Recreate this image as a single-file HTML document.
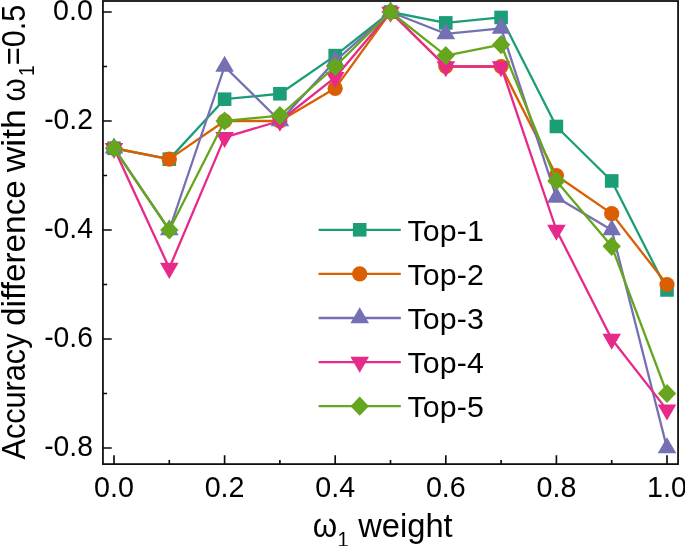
<!DOCTYPE html>
<html lang="en">
<head>
<meta charset="utf-8">
<title>Accuracy difference with ω1=0.5 vs ω1 weight</title>
<style>
html,body{margin:0;padding:0;background:#fff;}
body{width:685px;height:546px;overflow:hidden;}
svg{display:block;}
text{font-family:"Liberation Sans",sans-serif;fill:#000;}
.tk{font-size:29.4px;}
.lg{font-size:30.3px;}
.ax{font-size:32.5px;}
.sub{font-size:21.5px;}
.lg{letter-spacing:0.15px;}
</style>
</head>
<body>
<svg width="685" height="546" viewBox="0 0 685 546">
<rect x="0" y="0" width="685" height="546" fill="#fff"/>
<g fill="none" stroke-linejoin="round" stroke-linecap="butt">
<g><polyline points="114,148.25 169.3,159.15 224.6,99.2 279.9,93.75 335.2,55.6 390.5,12 445.8,22.9 501.1,17.45 556.4,126.45 611.7,180.95 667,289.95" stroke="#1b9e77" stroke-width="2.3" fill="none"/>
<rect x="107.2" y="141.45" width="13.6" height="13.6" fill="#1b9e77"/><rect x="162.5" y="152.35" width="13.6" height="13.6" fill="#1b9e77"/><rect x="217.8" y="92.4" width="13.6" height="13.6" fill="#1b9e77"/><rect x="273.1" y="86.95" width="13.6" height="13.6" fill="#1b9e77"/><rect x="328.4" y="48.8" width="13.6" height="13.6" fill="#1b9e77"/><rect x="383.7" y="5.2" width="13.6" height="13.6" fill="#1b9e77"/><rect x="439" y="16.1" width="13.6" height="13.6" fill="#1b9e77"/><rect x="494.3" y="10.65" width="13.6" height="13.6" fill="#1b9e77"/><rect x="549.6" y="119.65" width="13.6" height="13.6" fill="#1b9e77"/><rect x="604.9" y="174.15" width="13.6" height="13.6" fill="#1b9e77"/><rect x="660.2" y="283.15" width="13.6" height="13.6" fill="#1b9e77"/></g>
<g><polyline points="114,148.25 169.3,159.15 224.6,121 279.9,121 335.2,88.3 390.5,12 445.8,66.5 501.1,66.5 556.4,175.5 611.7,213.65 667,284.5" stroke="#d95f02" stroke-width="2.3" fill="none"/>
<circle cx="114" cy="148.25" r="7.6" fill="#d95f02"/><circle cx="169.3" cy="159.15" r="7.6" fill="#d95f02"/><circle cx="224.6" cy="121" r="7.6" fill="#d95f02"/><circle cx="279.9" cy="121" r="7.6" fill="#d95f02"/><circle cx="335.2" cy="88.3" r="7.6" fill="#d95f02"/><circle cx="390.5" cy="12" r="7.6" fill="#d95f02"/><circle cx="445.8" cy="66.5" r="7.6" fill="#d95f02"/><circle cx="501.1" cy="66.5" r="7.6" fill="#d95f02"/><circle cx="556.4" cy="175.5" r="7.6" fill="#d95f02"/><circle cx="611.7" cy="213.65" r="7.6" fill="#d95f02"/><circle cx="667" cy="284.5" r="7.6" fill="#d95f02"/></g>
<g><polyline points="114,148.25 169.3,230 224.6,66.5 279.9,121 335.2,61.05 390.5,12 445.8,33.8 501.1,28.35 556.4,197.3 611.7,230 667,448" stroke="#7570b3" stroke-width="2.3" fill="none"/>
<polygon points="114,137.51 104.7,153.62 123.3,153.62" fill="#7570b3"/><polygon points="169.3,219.26 160,235.37 178.6,235.37" fill="#7570b3"/><polygon points="224.6,55.76 215.3,71.87 233.9,71.87" fill="#7570b3"/><polygon points="279.9,110.26 270.6,126.37 289.2,126.37" fill="#7570b3"/><polygon points="335.2,50.31 325.9,66.42 344.5,66.42" fill="#7570b3"/><polygon points="390.5,1.26 381.2,17.37 399.8,17.37" fill="#7570b3"/><polygon points="445.8,23.06 436.5,39.17 455.1,39.17" fill="#7570b3"/><polygon points="501.1,17.61 491.8,33.72 510.4,33.72" fill="#7570b3"/><polygon points="556.4,186.56 547.1,202.67 565.7,202.67" fill="#7570b3"/><polygon points="611.7,219.26 602.4,235.37 621,235.37" fill="#7570b3"/><polygon points="667,437.26 657.7,453.37 676.3,453.37" fill="#7570b3"/></g>
<g><polyline points="114,148.25 169.3,268.15 224.6,137.35 279.9,121 335.2,77.4 390.5,12 445.8,66.5 501.1,66.5 556.4,230 611.7,339 667,409.85" stroke="#e7298a" stroke-width="2.3" fill="none"/>
<polygon points="114,158.99 104.7,142.88 123.3,142.88" fill="#e7298a"/><polygon points="169.3,278.89 160,262.78 178.6,262.78" fill="#e7298a"/><polygon points="224.6,148.09 215.3,131.98 233.9,131.98" fill="#e7298a"/><polygon points="279.9,131.74 270.6,115.63 289.2,115.63" fill="#e7298a"/><polygon points="335.2,88.14 325.9,72.03 344.5,72.03" fill="#e7298a"/><polygon points="390.5,22.74 381.2,6.63 399.8,6.63" fill="#e7298a"/><polygon points="445.8,77.24 436.5,61.13 455.1,61.13" fill="#e7298a"/><polygon points="501.1,77.24 491.8,61.13 510.4,61.13" fill="#e7298a"/><polygon points="556.4,240.74 547.1,224.63 565.7,224.63" fill="#e7298a"/><polygon points="611.7,349.74 602.4,333.63 621,333.63" fill="#e7298a"/><polygon points="667,420.59 657.7,404.48 676.3,404.48" fill="#e7298a"/></g>
<g><polyline points="114,148.25 169.3,230 224.6,121 279.9,115.55 335.2,66.5 390.5,12 445.8,55.6 501.1,44.7 556.4,180.95 611.7,246.35 667,393.5" stroke="#66a61e" stroke-width="2.3" fill="none"/>
<polygon points="114,138.65 123.2,148.25 114,157.85 104.8,148.25" fill="#66a61e"/><polygon points="169.3,220.4 178.5,230 169.3,239.6 160.1,230" fill="#66a61e"/><polygon points="224.6,111.4 233.8,121 224.6,130.6 215.4,121" fill="#66a61e"/><polygon points="279.9,105.95 289.1,115.55 279.9,125.15 270.7,115.55" fill="#66a61e"/><polygon points="335.2,56.9 344.4,66.5 335.2,76.1 326,66.5" fill="#66a61e"/><polygon points="390.5,2.4 399.7,12 390.5,21.6 381.3,12" fill="#66a61e"/><polygon points="445.8,46 455,55.6 445.8,65.2 436.6,55.6" fill="#66a61e"/><polygon points="501.1,35.1 510.3,44.7 501.1,54.3 491.9,44.7" fill="#66a61e"/><polygon points="556.4,171.35 565.6,180.95 556.4,190.55 547.2,180.95" fill="#66a61e"/><polygon points="611.7,236.75 620.9,246.35 611.7,255.95 602.5,246.35" fill="#66a61e"/><polygon points="667,383.9 676.2,393.5 667,403.1 657.8,393.5" fill="#66a61e"/></g>
</g>
<g stroke="#0a0a0a" stroke-width="1.75" fill="none" stroke-linecap="butt">
<rect x="102.94" y="1" width="575.12" height="463.1"/>
<path d="M114,464.1v-8.78M169.3,464.1v-4.17M224.6,464.1v-8.78M279.9,464.1v-4.17M335.2,464.1v-8.78M390.5,464.1v-4.17M445.8,464.1v-8.78M501.1,464.1v-4.17M556.4,464.1v-8.78M611.7,464.1v-4.17M667,464.1v-8.78M102.94,12h8.78M102.94,66.5h4.17M102.94,121h8.78M102.94,175.5h4.17M102.94,230h8.78M102.94,284.5h4.17M102.94,339h8.78M102.94,393.5h4.17M102.94,448h8.78" stroke-width="1.65"/>
</g>
<g class="tk">
<text transform="translate(114,497.3) scale(0.975,1)" text-anchor="middle">0.0</text>
<text transform="translate(224.6,497.3) scale(0.975,1)" text-anchor="middle">0.2</text>
<text transform="translate(335.2,497.3) scale(0.975,1)" text-anchor="middle">0.4</text>
<text transform="translate(445.8,497.3) scale(0.975,1)" text-anchor="middle">0.6</text>
<text transform="translate(556.4,497.3) scale(0.975,1)" text-anchor="middle">0.8</text>
<text transform="translate(667,497.3) scale(0.975,1)" text-anchor="middle">1.0</text>
<text transform="translate(92.9,20.1) scale(0.975,1)" text-anchor="end">0.0</text>
<text transform="translate(92.9,129.1) scale(0.962,1)" text-anchor="end">-0.2</text>
<text transform="translate(92.9,238.1) scale(0.962,1)" text-anchor="end">-0.4</text>
<text transform="translate(92.9,347.1) scale(0.962,1)" text-anchor="end">-0.6</text>
<text transform="translate(92.9,456.1) scale(0.962,1)" text-anchor="end">-0.8</text>
</g>
<g>
<line x1="318.6" y1="229.8" x2="400.8" y2="229.8" stroke="#1b9e77" stroke-width="2.3"/>
<rect x="352.9" y="223" width="13.6" height="13.6" fill="#1b9e77"/>
<text class="lg" x="407.4" y="240.7">Top-1</text>
<line x1="318.6" y1="273.9" x2="400.8" y2="273.9" stroke="#d95f02" stroke-width="2.3"/>
<circle cx="359.7" cy="273.9" r="7.6" fill="#d95f02"/>
<text class="lg" x="407.4" y="284.8">Top-2</text>
<line x1="318.6" y1="318" x2="400.8" y2="318" stroke="#7570b3" stroke-width="2.3"/>
<polygon points="359.7,307.26 350.4,323.37 369,323.37" fill="#7570b3"/>
<text class="lg" x="407.4" y="328.9">Top-3</text>
<line x1="318.6" y1="362.1" x2="400.8" y2="362.1" stroke="#e7298a" stroke-width="2.3"/>
<polygon points="359.7,372.84 350.4,356.73 369,356.73" fill="#e7298a"/>
<text class="lg" x="407.4" y="373">Top-4</text>
<line x1="318.6" y1="406.2" x2="400.8" y2="406.2" stroke="#66a61e" stroke-width="2.3"/>
<polygon points="359.7,396.6 368.9,406.2 359.7,415.8 350.5,406.2" fill="#66a61e"/>
<text class="lg" x="407.4" y="417.1">Top-5</text>
</g>
<text class="ax" transform="translate(312.85,537) scale(0.9626,1)">ω</text>
<text class="sub" transform="translate(337.39,546.5) scale(0.9356,1)">1</text>
<text class="ax" transform="translate(358.2,537) scale(1.0055,1)">weight</text>
<text class="ax" transform="translate(24.8,459.58) rotate(-90) scale(0.9439,1)">Accuracy</text>
<text class="ax" transform="translate(24.8,325.92) rotate(-90) scale(1.0262,1)">difference</text>
<text class="ax" transform="translate(24.8,172.3) rotate(-90) scale(1.0924,1)">with</text>
<text class="ax" transform="translate(24.8,101.49) rotate(-90) scale(0.9143,1)">ω</text>
<text class="sub" transform="translate(34.3,76.04) rotate(-90) scale(0.8926,1)">1</text>
<text class="ax" transform="translate(24.8,65.23) rotate(-90) scale(0.9431,1)">=0.5</text>
</svg>
</body>
</html>
